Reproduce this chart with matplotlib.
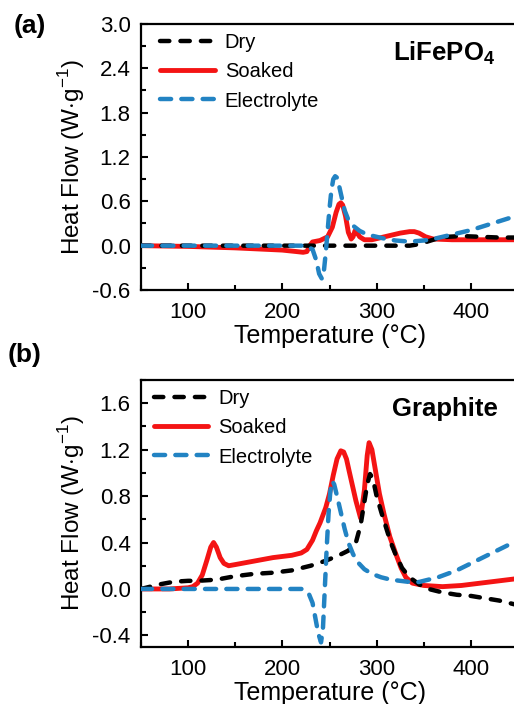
import matplotlib
matplotlib.use("Agg")
import matplotlib.pyplot as plt
from matplotlib.ticker import MultipleLocator

plt.rcParams["font.family"] = ["Liberation Sans", "DejaVu Sans"]
plt.rcParams["mathtext.fontset"] = "custom"
plt.rcParams["mathtext.rm"] = "Liberation Sans"
plt.rcParams["mathtext.bf"] = "Liberation Sans:bold"

BLACK = "#000000"
RED = "#f41414"
BLUE = "#2283c3"

# ---- panel (a): LiFePO4 ----
dry_a_t = [50, 100, 150, 200, 250, 300, 335, 345, 355, 365, 375, 390, 410, 430, 450]
dry_a = [0, 0, 0, 0, 0, 0, 0, 0.02, 0.06, 0.10, 0.12, 0.13, 0.12, 0.11, 0.11]

soaked_a_t = [50, 100, 150, 200, 215, 222, 226, 229, 232, 240, 248, 253, 257, 260, 262,
              264, 267, 270, 273, 275, 277, 279, 282, 287, 295, 305, 315, 325, 335, 340,
              345, 352, 360, 380, 400, 430, 450]
soaked_a = [0, -0.01, -0.03, -0.06, -0.08, -0.09, -0.08, 0.0, 0.05, 0.07, 0.12, 0.25, 0.45,
            0.56, 0.58, 0.55, 0.40, 0.18, 0.09, 0.12, 0.20, 0.18, 0.12, 0.08, 0.08, 0.11,
            0.14, 0.17, 0.19, 0.19, 0.17, 0.12, 0.09, 0.08, 0.08, 0.08, 0.08]

elec_a_t = [50, 100, 150, 200, 225, 232, 236, 239, 242, 244, 246, 248, 250, 252, 254, 256,
            258, 260, 263, 266, 270, 275, 282, 290, 300, 310, 320, 330, 340, 350, 360, 370,
            380, 390, 400, 410, 420, 430, 440, 450]
elec_a = [0, 0, 0, 0, 0, -0.05, -0.2, -0.38, -0.45, -0.35, -0.1, 0.2, 0.5, 0.75, 0.9, 0.94,
          0.92, 0.82, 0.65, 0.48, 0.35, 0.27, 0.2, 0.15, 0.12, 0.09, 0.07, 0.06, 0.06, 0.07,
          0.09, 0.12, 0.15, 0.18, 0.21, 0.25, 0.29, 0.33, 0.37, 0.41]

# ---- panel (b): Graphite ----
dry_b_t = [50, 60, 70, 80, 90, 100, 110, 120, 130, 150, 170, 190, 210, 230, 245, 260, 270,
           278, 283, 287, 290, 293, 296, 300, 305, 310, 315, 320, 327, 335, 345, 355, 370,
           385, 400, 415, 430, 445, 450]
dry_b = [0, 0.02, 0.04, 0.055, 0.065, 0.07, 0.07, 0.075, 0.08, 0.11, 0.13, 0.14, 0.16, 0.2,
         0.24, 0.29, 0.33, 0.40, 0.55, 0.75, 0.90, 0.99, 0.95, 0.80, 0.66, 0.53, 0.40, 0.30,
         0.18, 0.10, 0.04, 0.0, -0.03, -0.05, -0.06, -0.08, -0.10, -0.13, -0.14]

soaked_b_t = [50, 80, 100, 105, 110, 115, 120, 124, 127, 130, 134, 138, 143, 150, 170, 190,
              210, 220, 226, 232, 236, 240, 246, 250, 254, 258, 262, 265, 268, 271, 278, 283,
              287, 290, 292, 295, 299, 303, 308, 314, 320, 326, 331, 338, 350, 370, 390, 410,
              430, 450]
soaked_b = [0, 0, 0.01, 0.02, 0.05, 0.12, 0.25, 0.36, 0.40, 0.36, 0.27, 0.22, 0.20, 0.21,
            0.24, 0.27, 0.29, 0.31, 0.34, 0.42, 0.50, 0.57, 0.70, 0.82, 0.98, 1.12, 1.19, 1.18,
            1.12, 1.01, 0.76, 0.61, 0.85, 1.15, 1.26, 1.20, 1.01, 0.82, 0.64, 0.45, 0.31, 0.18,
            0.10, 0.05, 0.03, 0.02, 0.03, 0.05, 0.07, 0.09]

elec_b_t = [50, 100, 150, 200, 222, 228, 232, 235, 238, 241, 243, 245, 247, 249, 251, 253,
            255, 258, 262, 266, 270, 275, 280, 287, 295, 305, 315, 325, 335, 345, 355, 365,
            375, 385, 395, 405, 415, 425, 435, 450]
elec_b = [0, 0, 0, 0, 0, -0.04, -0.12, -0.25, -0.38, -0.46, -0.35, 0.0, 0.35, 0.65, 0.85,
          0.93, 0.90, 0.80, 0.66, 0.52, 0.40, 0.30, 0.23, 0.17, 0.13, 0.10, 0.08, 0.07, 0.06,
          0.06, 0.08, 0.10, 0.13, 0.16, 0.20, 0.24, 0.28, 0.32, 0.36, 0.42]

fig = plt.figure(figsize=(5.14, 7.04), dpi=100)


def draw_panel(rect, dry, soaked, elec, ylim, ystep, title, letter, letter_xy, leg_anchor):
    ax = fig.add_axes(rect)
    ax.plot(soaked[0], soaked[1], color=RED, lw=3.5, zorder=2, label="Soaked",
            solid_capstyle="round")
    ax.plot(dry[0], dry[1], color=BLACK, lw=3.2, zorder=3, label="Dry",
            dashes=(2.1, 2.5), dash_capstyle="round")
    ax.plot(elec[0], elec[1], color=BLUE, lw=3.2, zorder=4, label="Electrolyte",
            dashes=(2.5, 2.3), dash_capstyle="round")
    ax.set_xlim(50, 450)
    ax.set_ylim(*ylim)
    ax.xaxis.set_major_locator(MultipleLocator(100))
    ax.xaxis.set_minor_locator(MultipleLocator(50))
    ax.yaxis.set_major_locator(MultipleLocator(ystep))
    ax.yaxis.set_minor_locator(MultipleLocator(ystep / 2))
    ax.tick_params(which="both", direction="in", labelsize=16, width=1.5)
    ax.tick_params(axis="x", which="both", pad=8.5)
    ax.tick_params(axis="y", which="both", pad=7.5)
    ax.tick_params(which="major", length=5)
    ax.tick_params(which="minor", length=3.5)
    ax.yaxis.set_major_formatter(plt.FuncFormatter(lambda v, p: f"{v:.1f}"))
    for s in ax.spines.values():
        s.set_linewidth(1.6)
    ax.set_xlabel("Temperature (\u00b0C)", fontsize=18, labelpad=1)
    ax.set_ylabel(r"Heat Flow (W$\cdot$g$^{-1}$)", fontsize=17.5, labelpad=4)
    ax.text(0.805, 0.89, title, transform=ax.transAxes, fontsize=18.5, weight="bold",
            ha="center", va="center")
    handles, labels = ax.get_legend_handles_labels()
    order = [1, 0, 2]
    ax.legend([handles[i] for i in order], [labels[i] for i in order], frameon=False,
              loc="upper left", bbox_to_anchor=leg_anchor, fontsize=14.5, handlelength=2.7,
              handletextpad=0.5, labelspacing=0.5, borderaxespad=0)
    fig.text(letter_xy[0], letter_xy[1], letter, fontsize=19, weight="bold", ha="left",
             va="center")
    return ax


draw_panel([141 / 514, 1 - 290 / 704, 377 / 514, 266 / 704],
           (dry_a_t, dry_a), (soaked_a_t, soaked_a), (elec_a_t, elec_a),
           (-0.6, 3.0), 0.6, r"LiFePO$_\mathbf{4}$", "(a)", (14 / 514, 1 - 26 / 704),
           (0.03, 0.995))
draw_panel([141 / 514, 1 - 647 / 704, 377 / 514, 267 / 704],
           (dry_b_t, dry_b), (soaked_b_t, soaked_b), (elec_b_t, elec_b),
           (-0.5, 1.8), 0.4, "Graphite", "(b)", (8 / 514, 1 - 355 / 704),
           (0.012, 0.995))

fig.savefig("out.png", dpi=100)
